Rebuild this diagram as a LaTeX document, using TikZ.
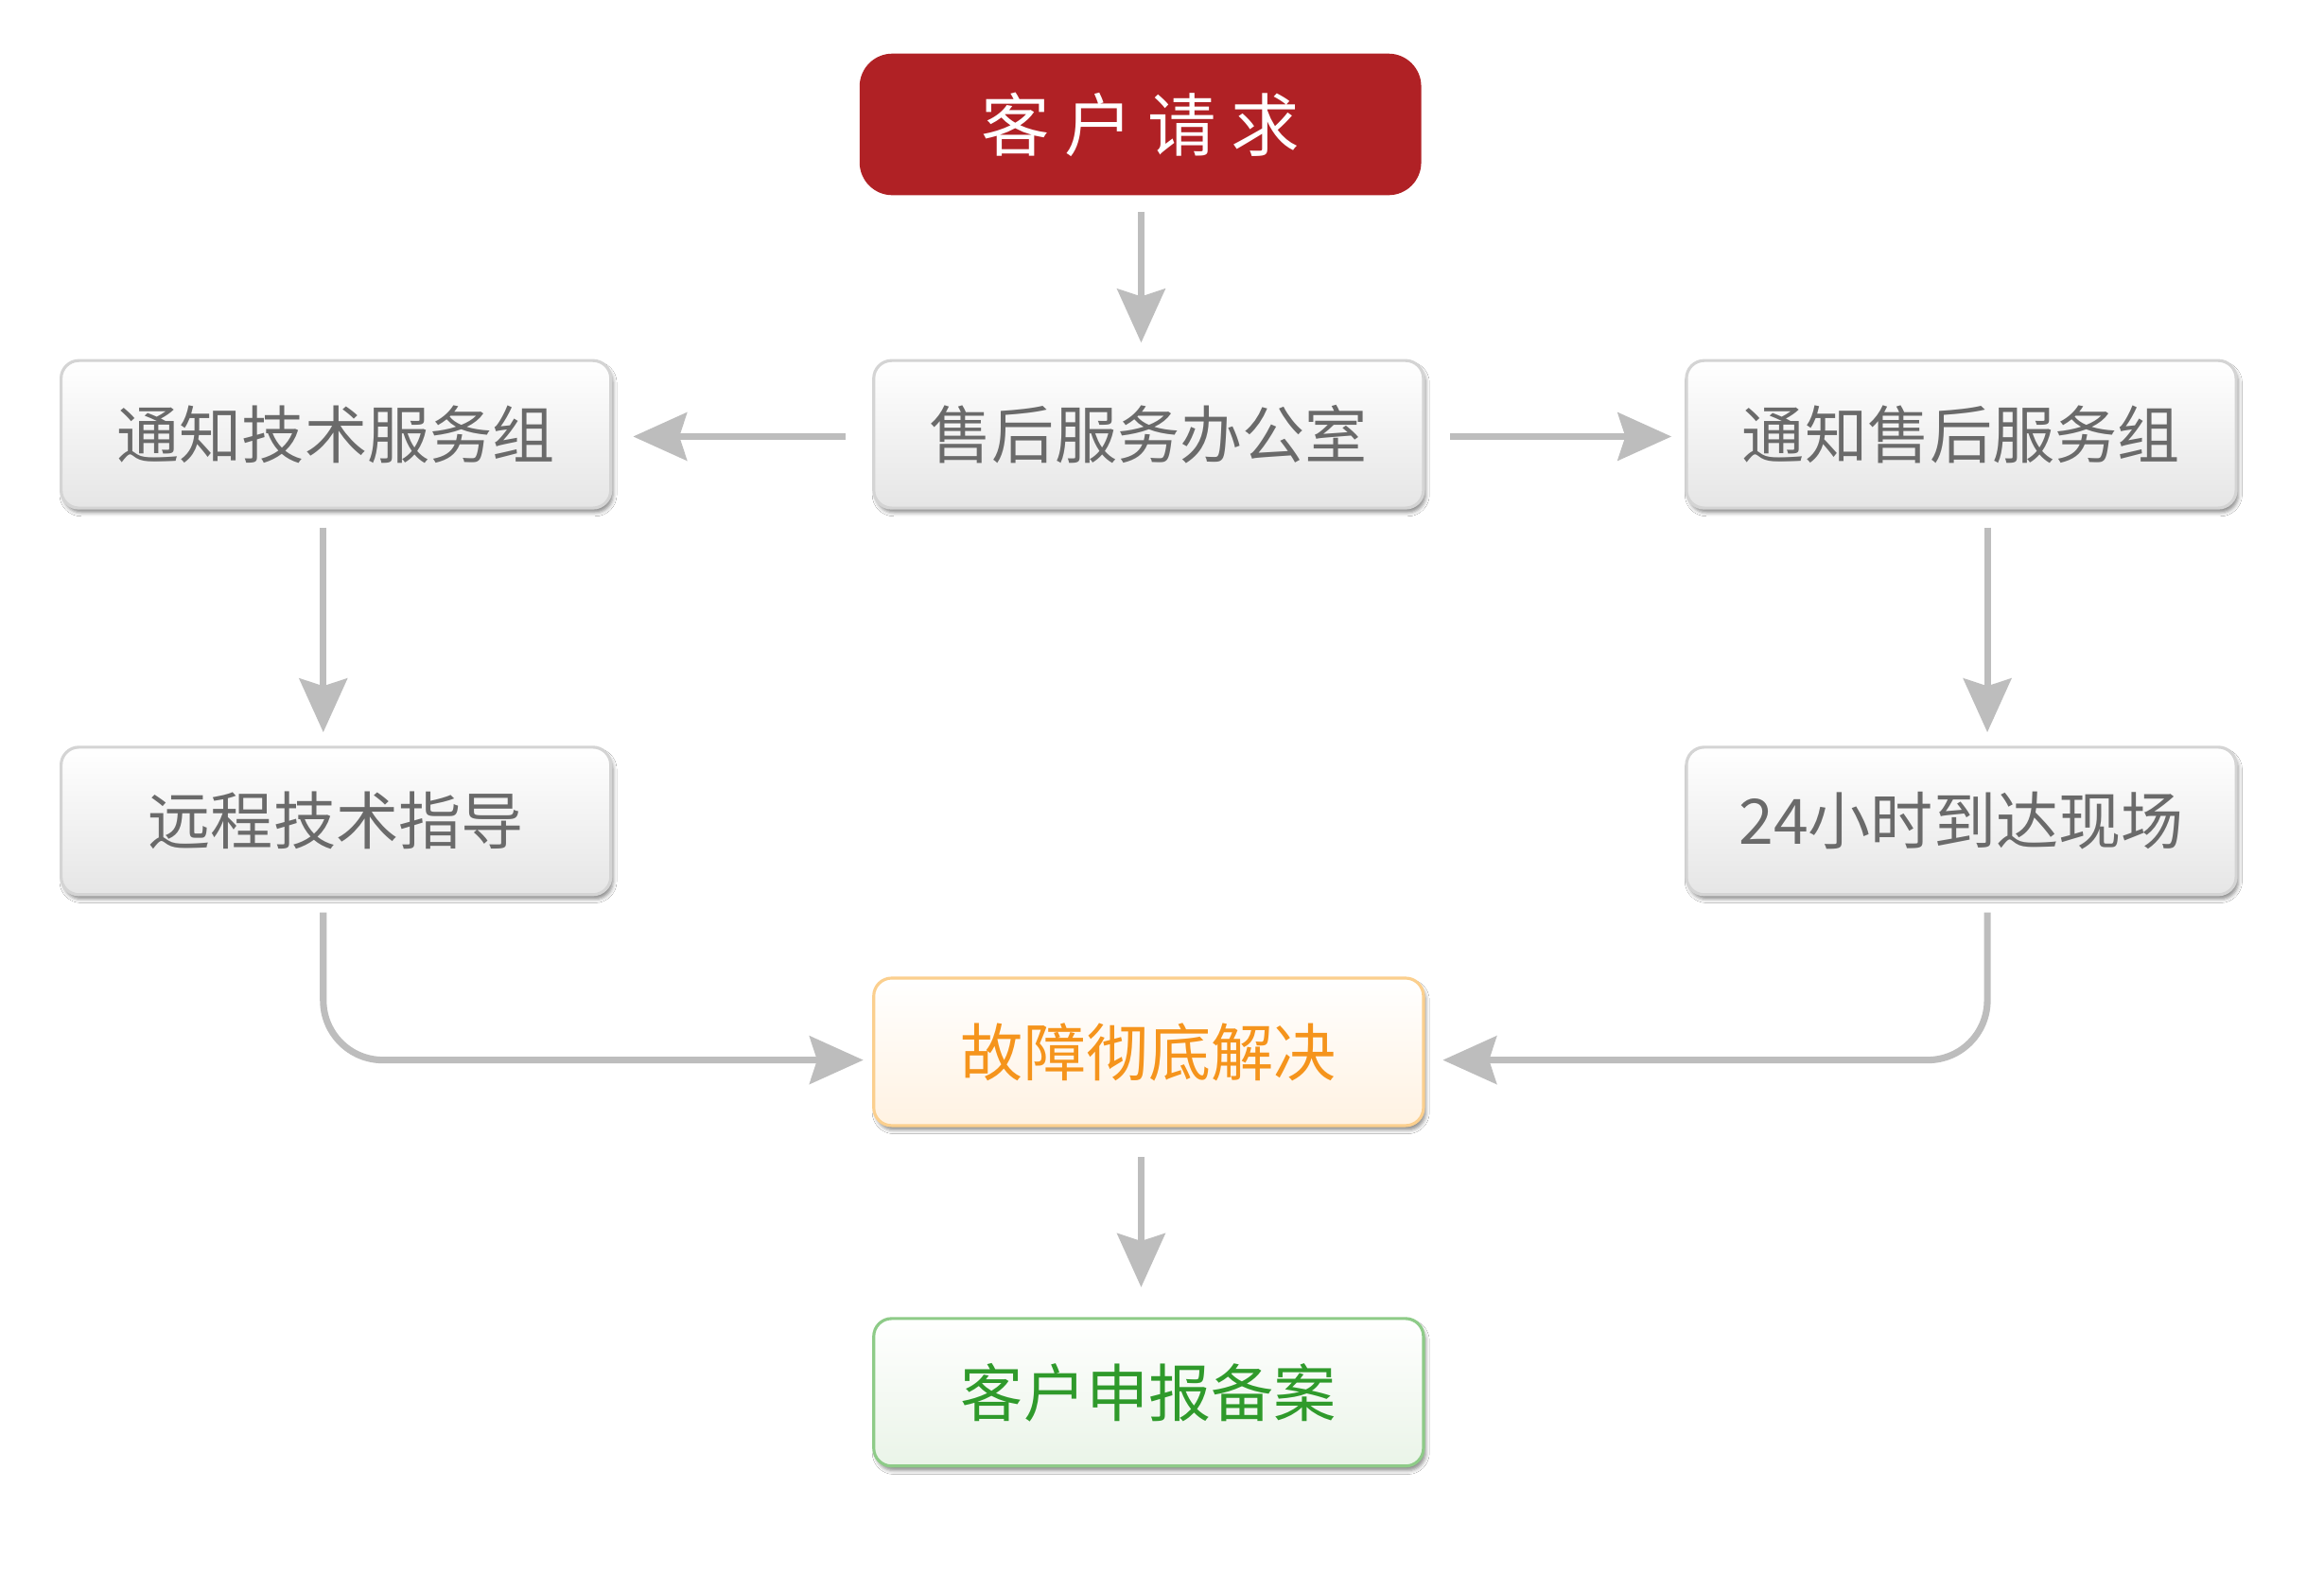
\documentclass[tikz,border=0pt]{standalone}
\usepackage{fontspec}
\newfontfamily\cjk{Noto Sans CJK SC}
\usetikzlibrary{arrows.meta,shadows.blur}
\definecolor{boxred}{HTML}{B02125}
\definecolor{arrgray}{HTML}{BDBDBD}
\definecolor{txtgray}{HTML}{6A6A6A}
\definecolor{bordgray}{HTML}{D4D4D4}
\definecolor{orbord}{HTML}{FBCF8E}
\definecolor{ortxt}{HTML}{F5941C}
\definecolor{orfill}{HTML}{FFF2E2}
\definecolor{grbord}{HTML}{8ECB88}
\definecolor{grtxt}{HTML}{2F9A2B}
\definecolor{grfill}{HTML}{EAF4E8}
\begin{document}
\begin{tikzpicture}[x=1pt,y=-1pt,
  basebox/.style={rounded corners=12pt, minimum width=369pt, minimum height=99pt,
    line width=2pt, font=\cjk\fontsize{42}{48}\selectfont, inner sep=0pt,
    blur shadow={shadow xshift=1.5pt, shadow yshift=-3pt, shadow blur radius=2.5pt, shadow opacity=45}},
  graybox/.style={basebox, draw=bordgray, top color=white, bottom color=black!10, text=txtgray},
  orbox/.style={basebox, draw=orbord, top color=white, bottom color=orfill, text=ortxt},
  grbox/.style={basebox, draw=grbord, top color=white, bottom color=grfill, text=grtxt},
  redbox/.style={rounded corners=22pt, minimum width=377pt, minimum height=95pt, fill=boxred,
    text=white, inner sep=0pt, font=\cjk\fontsize{46}{52}\selectfont},
  arr/.style={draw=arrgray, line width=4.5pt, -{Stealth[length=36pt,width=32pt,inset=5pt]}}
]
\useasboundingbox (0,0) rectangle (1560,1057);
\fill[white] (0,0) rectangle (1560,1057);

\node[redbox] (req) at (765.5,83.5) {客\hspace{10pt}户\hspace{10pt}请\hspace{10pt}求};

\node[graybox] (off) at (771,291.5) {售后服务办公室};
\node[graybox] (tech) at (225.5,291.5) {通知技术服务组};
\node[graybox] (sale) at (1316.5,291.5) {通知售后服务组};
\node[graybox] (remote) at (225.5,551) {远程技术指导};
\node[graybox] (onsite) at (1316.5,551) {24小时到达现场};
\node[orbox] (fix) at (771,706) {故障彻底解决};
\node[grbox] (rec) at (771,934.5) {客户申报备案};

\draw[arr, shorten <=11pt, shorten >=11pt] (req.south -| 766,0) -- (off.north -| 766,0);
\draw[arr, shorten <=18pt, shorten >=14pt] (off.west |- 0,293) -- (tech.east |- 0,293);
\draw[arr, shorten <=17pt, shorten >=9pt] (off.east |- 0,293) -- (sale.west |- 0,293);
\draw[arr, shorten <=12pt, shorten >=9pt] (tech.south -| 217,0) -- (remote.north -| 217,0);
\draw[arr, shorten <=12pt, shorten >=9pt] (sale.south -| 1334,0) -- (onsite.north -| 1334,0);
\draw[arr, rounded corners=40pt, shorten <=11pt, shorten >=6pt] (remote.south -| 217,0) |- (fix.west |- 0,711.5);
\draw[arr, rounded corners=40pt, shorten <=11pt, shorten >=12pt] (onsite.south -| 1334,0) |- (fix.east |- 0,711.5);
\draw[arr, shorten <=20pt, shorten >=20pt] (fix.south -| 766,0) -- (rec.north -| 766,0);
\end{tikzpicture}
\end{document}
